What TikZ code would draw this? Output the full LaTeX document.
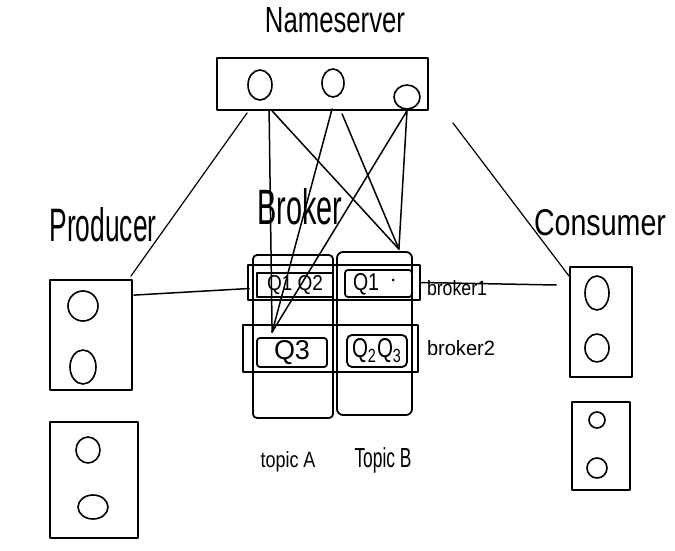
\documentclass[tikz,border=0pt]{standalone}
\usepackage{fontspec}
\setmainfont{Liberation Sans}
\usepackage{graphicx}
\usetikzlibrary{shapes.geometric,calc}
\newcommand{\fitt}[3]{\resizebox{#1pt}{#2pt}{#3}}
\begin{document}
\begin{tikzpicture}[x=1pt,y=-1pt, line width=1.6pt, line join=round, line cap=round,
  box/.style={draw, inner sep=0pt, line width=1.8pt},
  ring/.style={draw, ellipse, inner sep=0pt, line width=1.6pt},
  lbl/.style={inner sep=0pt},
  link/.style={line width=1.2pt},
  wire/.style={line width=1.5pt}]
\useasboundingbox[fill=white] (0,0) rectangle (675,551);

% labels
\node[lbl] (tns) at (335,20) {\fitt{140}{25}{Nameserver}};
\node[lbl] (tpr) at (103,225) {\fitt{107}{34}{Producer}};
\node[lbl] (tbr) at (300,207) {\fitt{85}{36}{Broker}};
\node[lbl] (tco) at (600,223) {\fitt{132}{26}{Consumer}};

% nameserver
\node[box, minimum width=211pt, minimum height=52pt] (ns) at (322.5,84) {};
\node[ring, minimum width=24pt, minimum height=30pt] (ns1) at (260,85) {};
\node[ring, minimum width=22pt, minimum height=28pt] (ns2) at (333,83) {};
\node[ring, minimum width=26pt, minimum height=24pt] (ns3) at (407,97) {};

% producers
\node[box, minimum width=82pt, minimum height=110pt] (p1) at (91,335) {};
\node[ring, minimum width=30pt, minimum height=30pt] (p1a) at (83,306) {};
\node[ring, minimum width=26pt, minimum height=34pt] (p1b) at (83,367) {};
\node[box, minimum width=88pt, minimum height=116pt] (p2) at (94,480) {};
\node[ring, minimum width=24pt, minimum height=26pt] (p2a) at (88,450) {};
\node[ring, minimum width=30pt, minimum height=24pt] (p2b) at (93,507) {};

% consumers
\node[box, minimum width=62pt, minimum height=110pt] (c1) at (601,322) {};
\node[ring, minimum width=24pt, minimum height=34pt] (c1a) at (597,293) {};
\node[ring, minimum width=24pt, minimum height=28pt] (c1b) at (597,348) {};
\node[box, minimum width=58pt, minimum height=88pt] (c2) at (601,446) {};
\node[ring, minimum width=16pt, minimum height=16pt] (c2a) at (597,420) {};
\node[ring, minimum width=20pt, minimum height=20pt] (c2b) at (597,468) {};

% broker columns and frames
\node[box, rounded corners=4pt, minimum width=80pt, minimum height=163pt] (tA) at (293,336.5) {};
\node[box, rounded corners=6pt, minimum width=75pt, minimum height=163pt] (tB) at (374.5,333.5) {};
\node[box, minimum width=172pt, minimum height=35pt] (b1) at (334,282.5) {};
\node[box, minimum width=175pt, minimum height=47pt] (b2) at (330.5,348.5) {};

% queues
\node[box, minimum width=76pt, minimum height=24pt] (q12) at (295,285) {\fitt{56}{15}{Q1 Q2}};
\node[box, rounded corners=3pt, minimum width=67pt, minimum height=27pt] (q1b) at (378.5,283.5) {};
\node[lbl] (q1bt) at (366,284) {\fitt{26}{17}{Q1}};
\node[circle, fill, inner sep=0pt, minimum size=3pt] (q1dot) at (393,280) {};
\node[box, rounded corners=3pt, minimum width=70pt, minimum height=29pt] (q3) at (292,352.5) {\fitt{36}{19}{Q3}};
\node[box, rounded corners=5pt, minimum width=60pt, minimum height=32pt] (q23) at (377,351) {\fitt{50}{19}{Q\textsubscript{2}Q\textsubscript{3}}};

% broker / topic labels
\node[lbl] (tb1) at (457,288) {\fitt{60}{15}{broker1}};
\node[lbl] (tb2) at (461,348) {\fitt{68}{15}{broker2}};
\node[lbl] (ttA) at (288,462) {\fitt{55}{16}{topic A}};
\node[lbl] (ttB) at (383,460) {\fitt{57}{20}{Topic B}};

% anchor points
\coordinate (aA) at ($(ns.south west)+(53,0)$);
\coordinate (aB) at ($(ns.south west)+(56,0)$);
\coordinate (aC) at ($(ns.south west)+(116,-2)$);
\coordinate (aD) at ($(ns.south west)+(126,3)$);
\coordinate (aE) at ($(ns3.south)+(0,1)$);
\coordinate (tgA) at ($(q3.north west)+(16,-5)$);
\coordinate (tgB) at ($(tB.north east)+(-14,-2)$);

% nameserver to broker
\draw[wire] (aA) -- (tgA);
\draw[wire] (aB) -- (tgB);
\draw[wire] (aC) -- (tgA);
\draw[wire] (aD) -- (tgB);
\draw[wire] (aE) -- (tgA);
\draw[wire] (aE) -- (tgB);

% producer / consumer links
\draw[link] ($(p1.north east)+(-2,-3)$) -- ($(ns.south west)+(31,2)$);
\draw[wire] ($(p1.north east)+(1,16)$) -- ($(b1.west)+(2,6)$);
\draw[wire] (b1.east) -- ($(c1.west)+(-13,-37)$);
\draw[link] ($(ns.south east)+(24,12)$) -- ($(c1.north west)+(0,10)$);
\end{tikzpicture}
\end{document}
